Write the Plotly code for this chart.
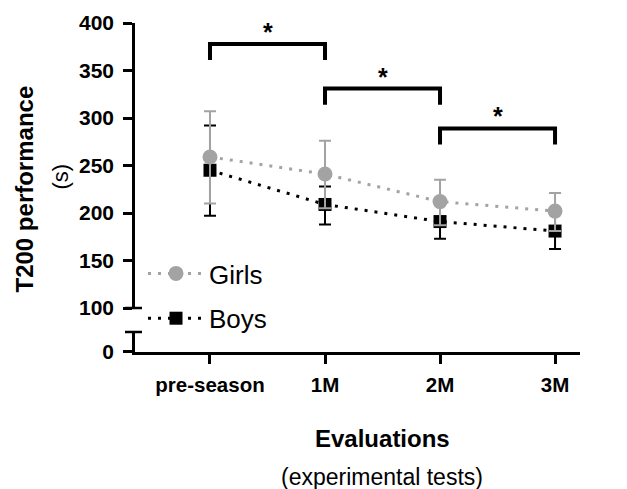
import plotly.graph_objects as go

categories = ["pre-season", "1M", "2M", "3M"]
x_pos = [0, 1, 2, 3]

girls_mean = [259, 241, 212, 202]
girls_upper = [307, 276, 235, 221]
girls_lower = [210, 205, 187, 181]

boys_mean = [245, 209, 191, 181]
boys_upper = [292, 228, 209, 201]
boys_lower = [197, 188, 173, 162]

# significance brackets: (start index, end index, top value, leg bottom value)
brackets = [(0, 1, 378, 361), (1, 2, 331, 314), (2, 3, 289, 272)]

GRAY = "#a3a3a3"
FONT = "Liberation Sans, Arial, sans-serif"

fig = go.Figure()

# empty trace that creates the lower (broken) axis segment subplot
fig.add_trace(go.Scatter(x=[], y=[], xaxis="x", yaxis="y", showlegend=False, hoverinfo="skip"))

fig.add_trace(go.Scatter(
    x=x_pos, y=boys_mean, name="Boys", mode="lines+markers",
    line=dict(color="black", width=3, dash="3px,7px"),
    marker=dict(symbol="square", size=13, color="black"),
    error_y=dict(type="data", symmetric=False,
                 array=[u - m for u, m in zip(boys_upper, boys_mean)],
                 arrayminus=[m - l for m, l in zip(boys_mean, boys_lower)],
                 color="black", thickness=2, width=6),
    legendrank=2, legendgroup="b", yaxis="y2", xaxis="x",
))
fig.add_trace(go.Scatter(
    x=x_pos, y=girls_mean, name="Girls", mode="lines+markers",
    line=dict(color=GRAY, width=3, dash="3px,7px"),
    marker=dict(symbol="circle", size=15, color=GRAY),
    error_y=dict(type="data", symmetric=False,
                 array=[u - m for u, m in zip(girls_upper, girls_mean)],
                 arrayminus=[m - l for m, l in zip(girls_mean, girls_lower)],
                 color=GRAY, thickness=2, width=6),
    legendrank=1, legendgroup="g", yaxis="y2", xaxis="x",
))

shapes = []
annotations = []
for i0, i1, top, bot in brackets:
    shapes.append(dict(type="path", xref="x", yref="y2",
                       path=f"M {x_pos[i0]},{bot} L {x_pos[i0]},{top} L {x_pos[i1]},{top} L {x_pos[i1]},{bot}",
                       line=dict(color="black", width=4)))
    annotations.append(dict(x=(x_pos[i0] + x_pos[i1]) / 2, y=top, xref="x", yref="y2",
                            text="<b>*</b>", showarrow=False, yanchor="bottom", yshift=-4,
                            font=dict(size=25, color="black", family=FONT)))

# axis-break caps
PW = 445.0
for yp in [0.1337, 0.0608]:
    shapes.append(dict(type="line", xref="paper", yref="paper",
                       x0=-10 / PW, x1=7 / PW, y0=yp, y1=yp,
                       line=dict(color="black", width=2.5)))

annotations += [
    dict(text="<b>T200 performance</b>", xref="paper", yref="paper",
         x=-111 / PW, y=0.5, textangle=-90, showarrow=False, xanchor="center", yanchor="middle",
         font=dict(size=24, color="black", family=FONT), yshift=-2),
    dict(text="(s)", xref="paper", yref="paper",
         x=-75 / PW, y=0.5, textangle=-90, showarrow=False, xanchor="center", yanchor="middle",
         font=dict(size=22, color="black", family=FONT), yshift=11),
    dict(text="<b>Evaluations</b>", xref="paper", yref="paper",
         x=(382 - 135) / PW, y=0, yshift=-86, showarrow=False, xanchor="center", yanchor="middle",
         font=dict(size=24, color="black", family=FONT)),
    dict(text="(experimental tests)", xref="paper", yref="paper",
         x=(382 - 135) / PW, y=0, yshift=-125, showarrow=False, xanchor="center", yanchor="middle",
         font=dict(size=23, color="black", family=FONT)),
]

tick_common = dict(showline=True, linecolor="black", linewidth=2.5, ticks="outside", ticklen=9,
                   tickwidth=2.5, tickcolor="black", showgrid=False, zeroline=False)

fig.update_layout(
    width=627, height=489,
    margin=dict(l=135, r=47, t=23, b=137),
    paper_bgcolor="white", plot_bgcolor="white",
    font=dict(family=FONT, color="black"),
    showlegend=True,
    legend=dict(x=0.018, y=0.31, xanchor="left", yanchor="top", traceorder="grouped",
                font=dict(size=26, color="black", family=FONT),
                bgcolor="rgba(0,0,0,0)", tracegroupgap=8, itemwidth=56),
    xaxis=dict(anchor="y", range=[-0.652, 3.217], tickvals=x_pos,
               ticktext=[f"<b>{c}</b>" for c in categories], ticklabelstandoff=4,
               tickfont=dict(size=20.5, color="black", family=FONT), **tick_common),
    yaxis=dict(domain=[0, 0.0608], range=[0, 21], tickvals=[0], ticktext=["<b>0</b>"],
               ticklabelstandoff=5,
               tickfont=dict(size=21, color="black", family=FONT), anchor="x", **tick_common),
    yaxis2=dict(domain=[0.1337, 1.0], range=[100, 400], tickvals=[100, 150, 200, 250, 300, 350, 400],
                ticktext=[f"<b>{v}</b>" for v in [100, 150, 200, 250, 300, 350, 400]],
                ticklabelstandoff=5,
                tickfont=dict(size=21, color="black", family=FONT), anchor="x", **tick_common),
    shapes=shapes, annotations=annotations,
)

fig.write_html("out.html", config={"displayModeBar": False},
               post_script="document.body.style.margin='0';document.body.style.overflow='hidden';")
